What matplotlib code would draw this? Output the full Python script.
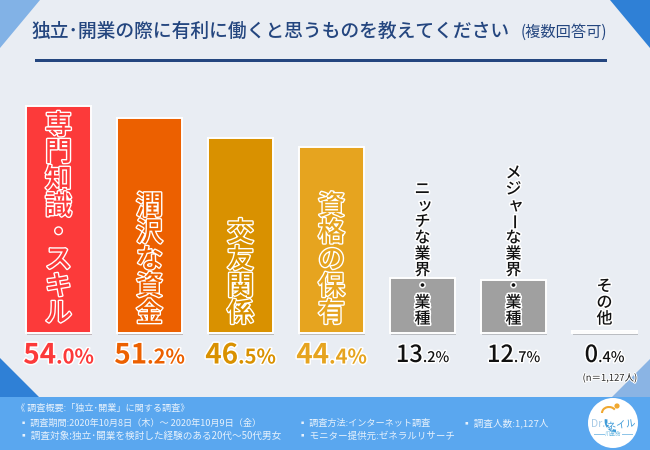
import matplotlib
matplotlib.use('Agg')
import matplotlib.pyplot as plt
import matplotlib.patheffects as pe
from matplotlib.offsetbox import TextArea, HPacker, AnnotationBbox
from matplotlib.patches import Polygon, Circle, Rectangle, Arc

plt.rcParams['font.family'] = ['Noto Sans CJK JP', 'DejaVu Sans']

# data
labels = ['専門知識・スキル', '潤沢な資金', '交友関係', '資格の保有',
          'ニッチな業界・業種', 'メジャーな業界・業種', 'その他']
values = [54.0, 51.2, 46.5, 44.4, 13.2, 12.7, 0.4]
bar_colors = ['#fc3a3a', '#ec6000', '#d99100', '#e6a41f', '#a0a0a0', '#a0a0a0', '#a0a0a0']
value_colors = ['#fc3a3a', '#ec6000', '#d99100', '#e6a41f', '#111111', '#111111', '#111111']
big_labels = [True, True, True, True, False, False, False]

title_main = '独立･開業の際に有利に働くと思うものを教えてください'
title_sub = '(複数回答可)'
footer_lines = [
    (16, 408, 6.6, '《 調査概要:「独立･開業」に関する調査》'),
    (19, 423, 6.6, '▪ 調査期間:2020年10月8日（木）～ 2020年10月9日（金）'),
    (19, 436, 6.95, '▪ 調査対象:独立･開業を検討した経験のある20代～50代男女'),
    (298, 423, 6.6, '▪ 調査方法:インターネット調査'),
    (298, 436, 6.8, '▪ モニター提供元:ゼネラルリサーチ'),
    (462, 423, 6.9, '▪ 調査人数:1,127人'),
]

BG = '#e9edf3'
NAVY = '#24467f'
fig = plt.figure(figsize=(6.5, 4.5), dpi=100, facecolor=BG)

# page furniture in pixel coords
bg = fig.add_axes([0, 0, 1, 1])
bg.set_xlim(0, 650)
bg.set_ylim(450, 0)
bg.axis('off')
bg.add_patch(Polygon([(0, 0), (40, 0), (0, 48)], fc='#82b2e6', ec='none'))
bg.add_patch(Polygon([(610, 0), (650, 0), (650, 48)], fc='#2f80d6', ec='none'))
bg.add_patch(Polygon([(0, 358), (39, 397), (0, 397)], fc='#2f80d6', ec='none'))
bg.add_patch(Polygon([(612, 397), (650, 359), (650, 397)], fc='#8ab4e4', ec='none'))
bg.add_patch(Rectangle((0, 397), 650, 53, fc='#5aa7ef', ec='none'))
bg.add_patch(Rectangle((35, 59), 572, 2.6, fc=NAVY, ec='none'))
bg.text(32, 31, title_main, fontsize=13.5, color=NAVY, va='center', ha='left', fontweight='medium')
bg.text(521, 32, title_sub, fontsize=11, color=NAVY, va='center', ha='left')

for x, y, size, s in footer_lines:
    bg.text(x, y, s, fontsize=size, color='#e6f1fc', va='center', ha='left')
bg.text(610, 378, '(n＝1,127人)', fontsize=6.8, color='#222222', va='center', ha='center',
        path_effects=[pe.withStroke(linewidth=1.5, foreground='white')])

# logo
bg.add_patch(Circle((613, 423), 25, fc='white', ec='none', zorder=3))
bg.add_patch(Circle((617, 406), 2.6, fc='#f0a830', ec='none', zorder=4))
bg.add_patch(Arc((609, 413), 14, 12, theta1=180, theta2=330, color='#f0a830', lw=1.5, zorder=4))
bg.add_patch(Arc((616, 421), 20, 20, theta1=90, theta2=190, color='#3f9bd8', lw=2, zorder=4))
bg.text(598, 424, 'Dr.', fontsize=7.5, color='#a8cbe6', va='center', ha='center', zorder=5)
bg.text(621, 425, 'ネイル', fontsize=7, color='#3f9bd8', va='center', ha='center', rotation=8, zorder=5,
        path_effects=[pe.withStroke(linewidth=1, foreground='white')])
bg.text(613, 434, '爪革命', fontsize=4, color='#6cb8e0', va='center', ha='center', zorder=5)
bg.plot([594, 604], [434, 434], color='#8cc4e8', lw=0.7, zorder=4)
bg.plot([622, 632], [434, 434], color='#8cc4e8', lw=0.7, zorder=4)

# bars
ax = fig.add_axes([13 / 650, (450 - 333) / 450, 637 / 650, 252 / 450])
ax.patch.set_alpha(0)
ax.set_xlim(-0.5, 6.5)
ax.set_ylim(0, 60)
ax.axis('off')

bars = ax.bar(range(len(values)), values, width=65 / 91, color=bar_colors,
              edgecolor='white', linewidth=1.4)
for b in bars:
    b.set_path_effects([pe.SimplePatchShadow(offset=(0.8, -1.5), alpha=0.25), pe.Normal()])
    b.set_clip_on(False)

PX = 72 / 100
SMALL_KANA = 'ッャ'
for i, label in enumerate(labels):
    if big_labels[i]:
        size, pitch, start = 19.5, 26.8, 19
        color = bar_colors[i]
        stroke = [pe.withStroke(linewidth=2.0, foreground='white')]
    else:
        size, pitch, start = 11.5, 16.2, 14
        color = '#111111'
        stroke = [pe.withStroke(linewidth=2.2, foreground='white')]
    for k, ch in enumerate(reversed(label)):
        dx = 2.5 if ch in SMALL_KANA else 0
        ax.annotate(ch, xy=(i, 0),
                    xytext=(dx * PX, (start + k * pitch) * PX),
                    textcoords='offset points', ha='center', va='center',
                    fontsize=size, fontweight='medium',
                    color=color, rotation=-90 if ch == 'ー' else 0,
                    path_effects=stroke, annotation_clip=False)

# value labels
for i, v in enumerate(values):
    whole, frac = f'{v:.1f}'.split('.')
    big, small = (20, 14.5) if big_labels[i] else (17, 10.5)
    weight = 'bold' if big_labels[i] else 'medium'
    stroke = [pe.withStroke(linewidth=2.2, foreground='white')]
    kw = dict(color=value_colors[i], fontweight=weight, path_effects=stroke)
    box = HPacker(children=[TextArea(whole, textprops=dict(fontsize=big, **kw)),
                            TextArea(f'.{frac}%', textprops=dict(fontsize=small, **kw))],
                  align='baseline', pad=0, sep=0)
    ax.add_artist(AnnotationBbox(box, (i, 0), xybox=(0, -22.5 * PX), xycoords='data',
                                 boxcoords='offset points', frameon=False,
                                 box_alignment=(0.5, 0.5), annotation_clip=False))

fig.savefig('out.png', dpi=100, facecolor=BG)
